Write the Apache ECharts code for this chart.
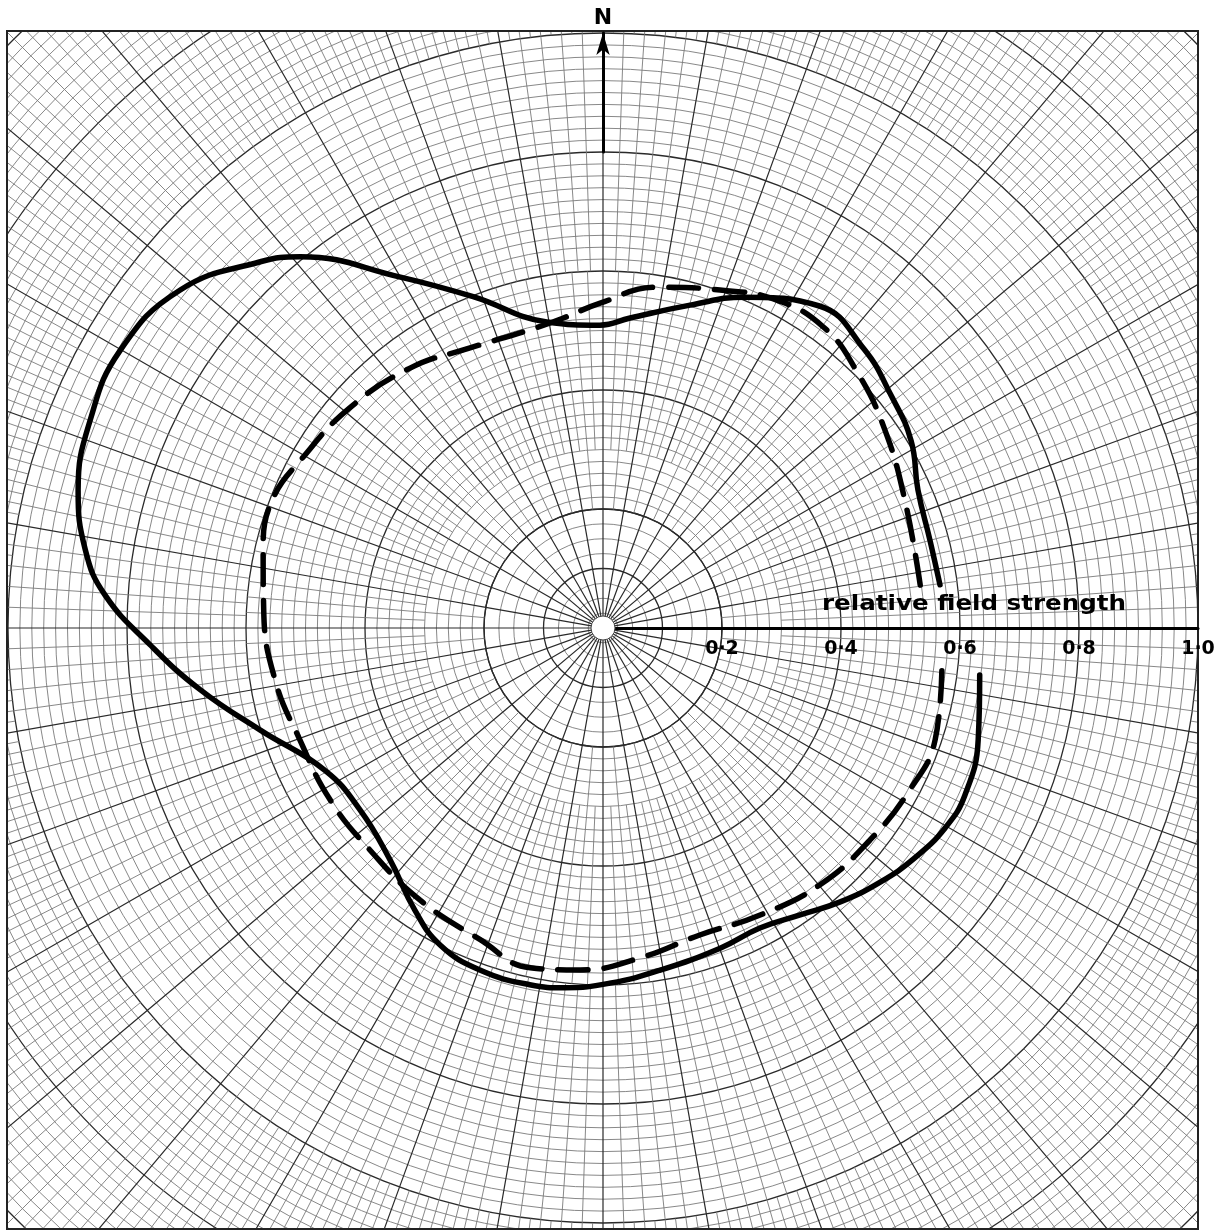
<!DOCTYPE html>
<html><head><meta charset="utf-8">
<script src="https://cdn.jsdelivr.net/npm/echarts@6/dist/echarts.min.js"></script>
<style>html,body{margin:0;padding:0;background:#fff}#c{width:1226px;height:1231px}</style>
</head><body><div id="c"></div>
<script>
// ---- data (compass bearing in degrees clockwise from N, relative field strength) ----
const solidBearing = [82.7,74.9,66.3,58.7,51.2,43.1,33.9,23.2,15.1,5.0,359.4,349.6,338.6,330,320.8,316.9,308.6,299.9,292.1,284.7,278.6,273.8,267.9,261.3,253.4,242.9,233.2,222.6,213.7,207.2,199.8,191.6,186.0,178.9,170.5,159.9,152.4,145.5,139.1,132.5,126.4,120.3,114.8,106.6,97.1];
const solidField   = [0.571,0.569,0.578,0.606,0.622,0.642,0.652,0.605,0.562,0.523,0.509,0.523,0.598,0.681,0.805,0.843,0.910,0.936,0.930,0.912,0.880,0.839,0.762,0.685,0.601,0.525,0.510,0.529,0.570,0.599,0.611,0.612,0.608,0.597,0.583,0.573,0.569,0.585,0.609,0.632,0.651,0.666,0.670,0.658,0.638];
const dashedBearing = [82.3,67,54.9,44.9,36.2,27.5,19.1,9.0,359.5,352.6,346.2,334.6,323.4,311,299.7,291.1,282.9,273,261,249.7,237.8,226.4,213.9,201.5,192.1,183.8,173.6,162.5,151.3,139.8,128.5,117.8,108.6,96.2];
const dashedField   = [0.538,0.551,0.579,0.606,0.627,0.623,0.601,0.580,0.546,0.525,0.516,0.521,0.544,0.564,0.580,0.596,0.586,0.571,0.558,0.543,0.542,0.541,0.551,0.563,0.584,0.576,0.558,0.541,0.550,0.565,0.573,0.583,0.589,0.573];
const tickValues = [0.2, 0.4, 0.6, 0.8, 1.0];
const tickLabels = ['0·2', '0·4', '0·6', '0·8', '1·0'];
const axisTitle = 'relative field strength';
const northLabel = 'N';

// ---- layout ----
const CX = 603, CY = 628, S = 595, RMAX = 1.6;
const LIGHT = '#7a7a7a', BOLD = '#2a2a2a';

const solidData = solidField.map((r, i) => [r, solidBearing[i]]);
const dashedData = dashedField.map((r, i) => [r, dashedBearing[i]]);

const polar = [], angleAxis = [], radiusAxis = [];
function addPolar(rIn, rOut, ang, rad) {
  const idx = polar.length;
  polar.push({ center: [CX, CY], radius: [rIn * S, rOut * S] });
  angleAxis.push(Object.assign({ polarIndex: idx, type: 'value', min: 0, max: 360, startAngle: 90, clockwise: true,
    axisLine: { show: false }, axisTick: { show: false }, axisLabel: { show: false }, splitLine: { show: false }, z: 0 }, ang || {}));
  radiusAxis.push(Object.assign({ polarIndex: idx, type: 'value', min: rIn, max: rOut,
    axisLine: { show: false }, axisTick: { show: false }, axisLabel: { show: false }, splitLine: { show: false }, z: 0 }, rad || {}));
  return idx;
}
const dataPolar = addPolar(0, RMAX);
// rings
addPolar(0, 0.2, null, { interval: 0.1, splitLine: { show: true, lineStyle: { color: BOLD, width: 1.3 } },
  minorTick: { show: false, splitNumber: 4 }, minorSplitLine: { show: true, lineStyle: { color: LIGHT, width: 0.9 } } });
addPolar(0.2, RMAX, null, { interval: 0.2, splitLine: { show: true, lineStyle: { color: BOLD, width: 1.3 } },
  minorTick: { show: false, splitNumber: 10 }, minorSplitLine: { show: true, lineStyle: { color: LIGHT, width: 0.9 } } });
// radial line zones
function angleZone(rIn, rOut, step) {
  const n = Math.round(10 / step);
  addPolar(rIn, rOut, { interval: 10, splitLine: { show: true, lineStyle: { color: BOLD, width: 1.2 } },
    minorTick: { show: false, splitNumber: n }, minorSplitLine: { show: n > 1, lineStyle: { color: LIGHT, width: 0.9 } } });
}
angleZone(0.02, 0.2, 10);
angleZone(0.2, 0.3, 5);
angleZone(0.3, 0.6, 2.5);
angleZone(0.6, 1.0, 2);
angleZone(1.0, RMAX, 1);
// north arrow
addPolar(0.8, 1.0, null, { show: true, name: northLabel, nameLocation: 'end', nameGap: 4,
  nameTextStyle: { fontSize: 22, fontWeight: 'bold', color: '#000', fontFamily: 'DejaVu Sans' },
  axisLine: { show: true, symbol: ['none', 'arrow'], symbolSize: [10, 22], lineStyle: { color: '#000', width: 3 } }, z: 6 });

const option = {
  animation: false,
  backgroundColor: '#fff',
  polar, angleAxis, radiusAxis,
  grid: { left: CX, width: S, top: 100, height: CY - 100, containLabel: false },
  xAxis: { type: 'value', min: 0, max: 1, interval: 0.2, z: 6,
    axisLine: { show: true, lineStyle: { color: '#000', width: 3 } }, axisTick: { show: false }, splitLine: { show: false },
    axisLabel: { show: true, margin: 12, fontSize: 19, fontWeight: 'bold', color: '#000', fontFamily: 'DejaVu Sans',
      formatter: v => { const i = tickValues.findIndex(t => Math.abs(t - v) < 1e-6); return i >= 0 ? tickLabels[i] : ''; } } },
  yAxis: { type: 'value', show: false },
  series: [
    { type: 'line', coordinateSystem: 'polar', polarIndex: dataPolar, data: solidData, smooth: 0.45, showSymbol: false, z: 4,
      lineStyle: { color: '#000', width: 5.5, cap: 'round' } },
    { type: 'line', coordinateSystem: 'polar', polarIndex: dataPolar, data: dashedData, smooth: 0.45, showSymbol: false, z: 4,
      lineStyle: { color: '#000', width: 5.5, type: [30, 16], cap: 'round' } }
  ],
  graphic: [
    { type: 'rect', z: 3, shape: { x: 0, y: 0, width: 1226, height: 31 }, style: { fill: '#fff' } },
    { type: 'rect', z: 3, shape: { x: 0, y: 1229, width: 1226, height: 10 }, style: { fill: '#fff' } },
    { type: 'rect', z: 3, shape: { x: 0, y: 0, width: 7, height: 1231 }, style: { fill: '#fff' } },
    { type: 'rect', z: 3, shape: { x: 1198, y: 0, width: 40, height: 1231 }, style: { fill: '#fff' } },
    { type: 'rect', z: 3, shape: { x: 7, y: 31, width: 1191, height: 1198 }, style: { fill: 'none', stroke: '#222', lineWidth: 2 } },
    { type: 'circle', z: 7, shape: { cx: CX, cy: CY, r: 12 }, style: { fill: '#fff', stroke: '#444', lineWidth: 1 } },
    { type: 'text', z: 7, x: 822, y: 594, scaleX: 1.17, style: { text: axisTitle, fontSize: 21, fontWeight: 'bold', fill: '#000', fontFamily: 'DejaVu Sans' } }
  ]
};
echarts.init(document.getElementById('c')).setOption(option);
</script>
</body></html>
